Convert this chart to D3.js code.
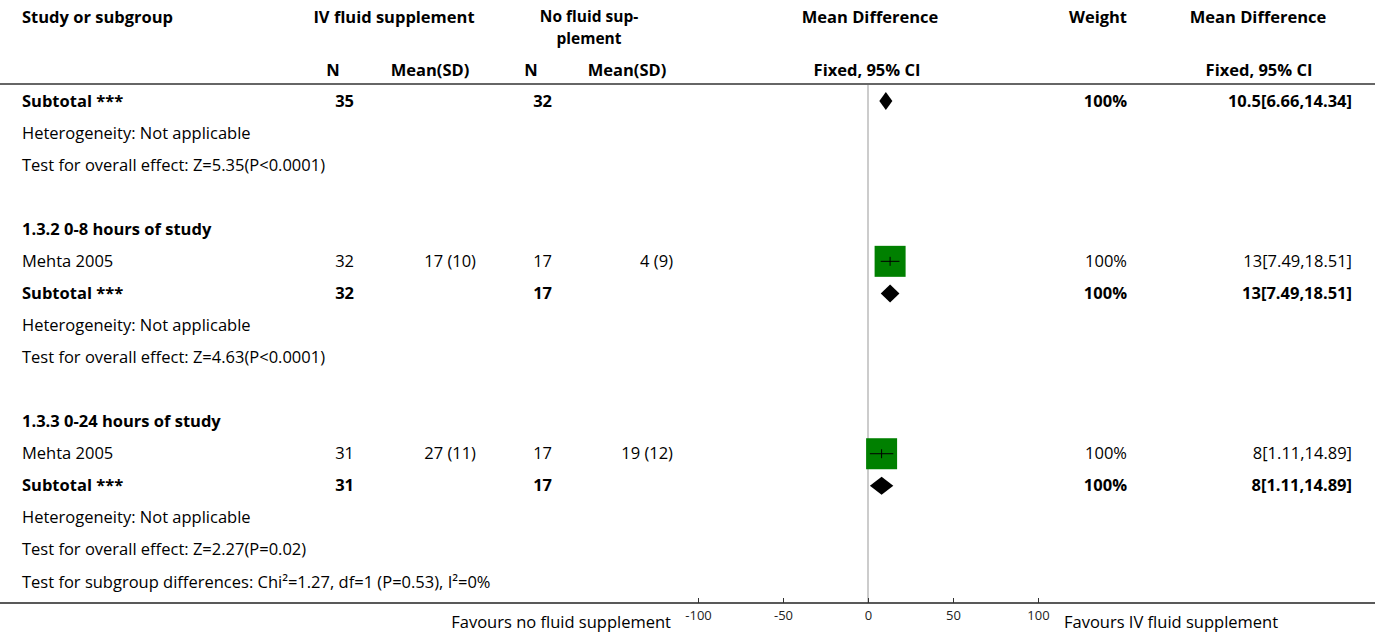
<!DOCTYPE html>
<html>
<head>
<meta charset="utf-8">
<script src="https://cdn.jsdelivr.net/npm/d3@7"></script>
<style>
  html, body { margin: 0; padding: 0; background: #fff; }
  svg { display: block; font-family: "Open Sans", "Noto Sans", sans-serif; }
</style>
</head>
<body>
<div id="chart"></div>
<script>
// ---------- DATA ----------
const headerTop = ["Study or subgroup", "IV fluid supplement", ["No fluid sup-", "plement"], "Mean Difference", "Weight", "Mean Difference"];
const headerSub = ["N", "Mean(SD)", "N", "Mean(SD)", "Fixed, 95% CI", "Fixed, 95% CI"];
const rowTypes = ["subtotal","note","note","blank","group","study","subtotal","note","note","blank","group","study","subtotal","note","note","note"];
const rowLabels = [
  "Subtotal ***",
  "Heterogeneity: Not applicable",
  "Test for overall effect: Z=5.35(P<0.0001)",
  "",
  "1.3.2 0-8 hours of study",
  "Mehta 2005",
  "Subtotal ***",
  "Heterogeneity: Not applicable",
  "Test for overall effect: Z=4.63(P<0.0001)",
  "",
  "1.3.3 0-24 hours of study",
  "Mehta 2005",
  "Subtotal ***",
  "Heterogeneity: Not applicable",
  "Test for overall effect: Z=2.27(P=0.02)",
  "Test for subgroup differences: Chi\u00B2=1.27, df=1 (P=0.53), I\u00B2=0%"
];
const ivN      = [35,null,null,null,null,32,32,null,null,null,null,31,31,null,null,null];
const ivMeanSD = [null,null,null,null,null,"17 (10)",null,null,null,null,null,"27 (11)",null,null,null,null];
const noN      = [32,null,null,null,null,17,17,null,null,null,null,17,17,null,null,null];
const noMeanSD = [null,null,null,null,null,"4 (9)",null,null,null,null,null,"19 (12)",null,null,null,null];
const weight   = [100,null,null,null,null,100,100,null,null,null,null,100,100,null,null,null];
const md       = [10.5,null,null,null,null,13,13,null,null,null,null,8,8,null,null,null];
const ciLow    = [6.66,null,null,null,null,7.49,7.49,null,null,null,null,1.11,1.11,null,null,null];
const ciHigh   = [14.34,null,null,null,null,18.51,18.51,null,null,null,null,14.89,14.89,null,null,null];
const axisTicks = [-100, -50, 0, 50, 100];
const favoursLeft = "Favours no fluid supplement";
const favoursRight = "Favours IV fluid supplement";

// ---------- LAYOUT ----------
const W = 1375, H = 635;
const FS = 16.5;
const svg = d3.select("#chart").append("svg").attr("width", W).attr("height", H);

const x = d3.scaleLinear().domain([-100, 100]).range([698, 1038]);
const y = d3.scalePoint().domain(d3.range(rowLabels.length)).range([101, 582]);
const sq = d3.scaleSqrt().domain([0, 100]).range([0, 31]);

const axisY = 603, headLineY = 84;

// header
const hdr = svg.append("g").attr("font-weight", "bold").attr("font-size", FS).attr("fill", "#000");
const topPos = [[22,"start"],[394,"middle"],[589,"middle"],[870,"middle"],[1098,"middle"],[1258,"middle"]];
headerTop.forEach((t,i) => {
  if (Array.isArray(t)) {
    t.forEach((line, k) => hdr.append("text").attr("x", topPos[i][0]).attr("y", k === 0 ? 22 : 43.5)
      .attr("text-anchor", topPos[i][1]).attr("font-size", 15.5).text(line));
  } else hdr.append("text").attr("x", topPos[i][0]).attr("y", 23).attr("text-anchor", topPos[i][1]).text(t);
});
const subPos = [333, 430, 531, 627, 867, 1259];
headerSub.forEach((t,i) => hdr.append("text").attr("x", subPos[i]).attr("y", 76).attr("text-anchor", "middle").text(t));

svg.append("line").attr("x1", 0).attr("x2", W).attr("y1", headLineY).attr("y2", headLineY)
  .attr("stroke", "#333").attr("stroke-width", 1.5);

// zero line
svg.append("line").attr("x1", x(0)).attr("x2", x(0)).attr("y1", headLineY + 1).attr("y2", axisY)
  .attr("stroke", "#999").attr("stroke-width", 1);

// rows
const rows = svg.append("g").attr("font-size", FS).attr("fill", "#000");
const cols = [
  {arr: ivN, x: 354}, {arr: ivMeanSD, x: 476}, {arr: noN, x: 552}, {arr: noMeanSD, x: 673},
  {arr: weight.map(w => w == null ? null : w + "%"), x: 1127},
  {arr: md.map((m,i) => m == null ? null : `${m}[${ciLow[i]},${ciHigh[i]}]`), x: 1352}
];
rowLabels.forEach((lab, i) => {
  const bold = rowTypes[i] === "subtotal" || rowTypes[i] === "group";
  const yy = y(i) + 5.5;
  if (lab) rows.append("text").attr("x", 22).attr("y", yy).attr("font-weight", bold ? "bold" : "normal").text(lab);
  cols.forEach(c => {
    if (c.arr[i] != null) rows.append("text").attr("x", c.x).attr("y", yy)
      .attr("text-anchor", "end").attr("font-weight", bold ? "bold" : "normal").text(c.arr[i]);
  });
});

// marks
const marks = svg.append("g");
rowTypes.forEach((t, i) => {
  if (md[i] == null) return;
  const cy = y(i);
  if (t === "study") {
    const s = sq(weight[i]);
    marks.append("rect").attr("x", x(md[i]) - s/2).attr("y", cy - s/2).attr("width", s).attr("height", s).attr("fill", "#008000");
    marks.append("line").attr("x1", x(ciLow[i])).attr("x2", x(ciHigh[i])).attr("y1", cy).attr("y2", cy).attr("stroke", "#000").attr("stroke-width", 1);
    marks.append("line").attr("x1", x(md[i])).attr("x2", x(md[i])).attr("y1", cy - 4.5).attr("y2", cy + 4.5).attr("stroke", "#000").attr("stroke-width", 1);
  } else if (t === "subtotal") {
    const h = 9;
    const pts = [[x(ciLow[i]), cy], [x(md[i]), cy - h], [x(ciHigh[i]), cy], [x(md[i]), cy + h]];
    marks.append("polygon").attr("points", pts.map(p => p.join(",")).join(" ")).attr("fill", "#000");
  }
});

// axis
svg.append("line").attr("x1", 0).attr("x2", W).attr("y1", axisY).attr("y2", axisY).attr("stroke", "#222").attr("stroke-width", 1.3);
const ax = svg.append("g").attr("transform", `translate(0,${axisY})`)
  .call(d3.axisBottom(x).tickValues(axisTicks).tickSize(-5).tickPadding(8).tickFormat(d => String(d)));
ax.select(".domain").remove();
ax.selectAll(".tick line").attr("stroke", "#333");
ax.selectAll(".tick text").attr("font-size", 13).attr("fill", "#222").attr("font-family", "\"Open Sans\", sans-serif");

svg.append("text").attr("x", 671).attr("y", 628).attr("text-anchor", "end").attr("font-size", FS).text(favoursLeft);
svg.append("text").attr("x", 1064).attr("y", 628).attr("text-anchor", "start").attr("font-size", FS).text(favoursRight);
</script>
</body>
</html>
